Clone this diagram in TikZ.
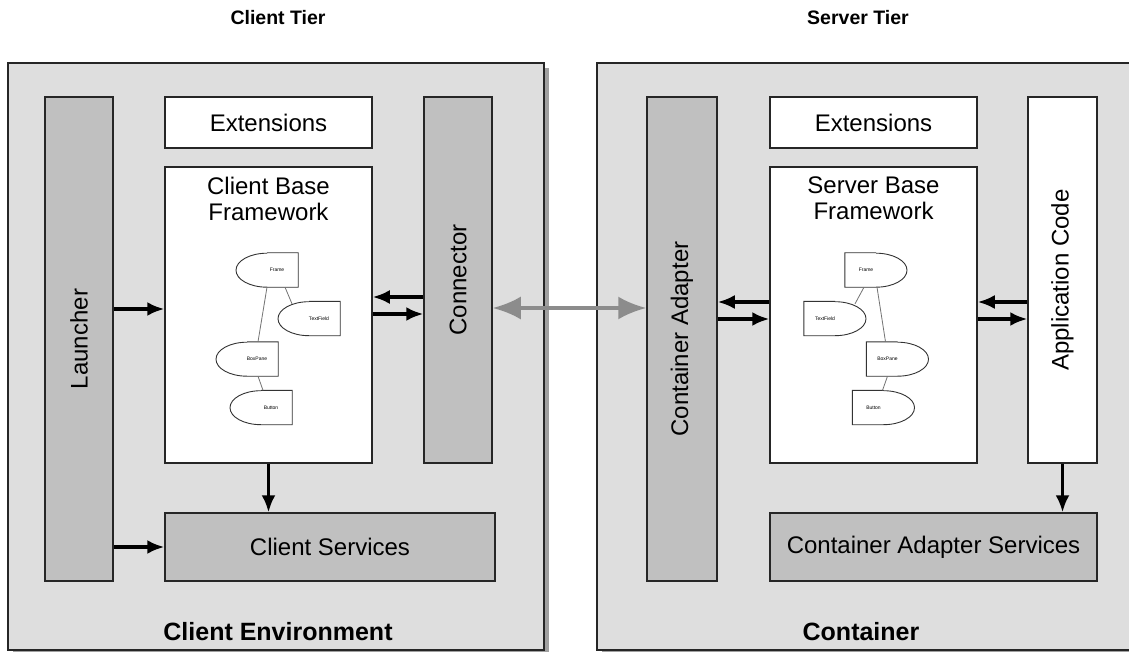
\documentclass[tikz,border=0pt]{standalone}
\usepackage{fontspec}
\setmainfont{Liberation Sans}
\usetikzlibrary{arrows.meta,shadows}

\definecolor{envgray}{HTML}{DEDEDE}
\definecolor{partgray}{HTML}{C0C0C0}
\definecolor{shadowgray}{HTML}{A0A0A0}
\definecolor{linkgray}{HTML}{8C8C8C}

\tikzset{
  env/.style={draw=black!85, line width=1.5pt, fill=envgray,
    drop shadow={shadow xshift=5pt, shadow yshift=-5pt, opacity=1, fill=shadowgray}},
  part/.style={draw=black!85, line width=1.5pt, fill=partgray, inner sep=0pt,
    font=\fontsize{24}{26}\selectfont},
  whitepart/.style={part, fill=white},
  parttext/.style={inner sep=0pt, font=\fontsize{24}{26}\selectfont},
  tier/.style={font=\fontsize{19.5}{22}\selectfont\bfseries},
  envlabel/.style={font=\fontsize{25}{28}\selectfont\bfseries},
  flow/.style={line width=3.2pt, -{Latex[length=17pt,width=14pt]}},
  link/.style={line width=3.5pt, draw=linkgray,
    {Latex[length=28pt,width=23pt]}-{Latex[length=28pt,width=23pt]}},
  cls/.style={minimum width=62pt, minimum height=34pt, inner sep=0pt,
    font=\fontsize{5}{6}\selectfont},
  lcls/.style={cls, execute at begin node={\hspace*{20pt}}},
  rcls/.style={cls, execute at end node={\hspace*{20pt}}},
  clsline/.style={draw=black!80, line width=0.9pt},
  edge/.style={draw=black!55, line width=0.8pt}
}

\begin{document}
\begin{tikzpicture}[x=1pt,y=-1pt]
    \clip (0,0) rectangle (1129,652);

    % the two tiers
    \node [tier] (ctier) at (278,18) {Client Tier};
    \node [tier] (stier) at (858,18) {Server Tier};
    \node [env, minimum width=536pt, minimum height=587pt] (cenv) at (276,356.5) {};
    \node [env, minimum width=543pt, minimum height=587pt] (senv) at (868.5,356.5) {};
    \node [envlabel] (cenvtext) at (278,632) {Client Environment};
    \node [envlabel] (senvtext) at (861,632) {Container};

    % client side
    \node [part, minimum width=68pt, minimum height=484pt] (launch) at (79,339) {};
    \node [parttext, rotate=90] (launchtext) at (launch) {Launcher};
    \node [whitepart, minimum width=207pt, minimum height=51pt] (cext) at (268.5,122.5) {Extensions};
    \node [whitepart, minimum width=207pt, minimum height=296pt] (cbf) at (268.5,315) {};
    \node [parttext, align=center, anchor=north] (cbftext) at (268.5,177) {Client Base\\Framework};
    \node [part, minimum width=68pt, minimum height=366pt] (conn) at (458,280) {};
    \node [parttext, rotate=90] (conntext) at (conn) {Connector};
    \node [part, minimum width=330pt, minimum height=68pt] (csrv) at (330,547) {Client Services};

    % server side
    \node [part, minimum width=70pt, minimum height=484pt] (cadapt) at (682,339) {};
    \node [parttext, rotate=90] (cadapttext) at (cadapt) {Container Adapter};
    \node [whitepart, minimum width=207pt, minimum height=51pt] (sext) at (873.5,122.5) {Extensions};
    \node [whitepart, minimum width=207pt, minimum height=296pt] (sbf) at (873.5,315) {};
    \node [parttext, align=center, anchor=north] (sbftext) at (873.5,177) {Server Base\\Framework};
    \node [whitepart, minimum width=69pt, minimum height=366pt] (app) at (1062.5,280) {};
    \node [parttext, rotate=90] (apptext) at (app) {Application Code};
    \node [part, minimum width=327pt, minimum height=68pt] (cas) at (933.5,547) {Container Adapter Services};

    % small class graph, client
    \node [lcls] (cframe) at (267,270) {Frame};
    \node [lcls] (ctext) at (309,318.5) {TextField};
    \node [lcls] (cbox) at (247,359) {BoxPane};
    \node [lcls] (cbutton) at (261,407.5) {Button};
    \draw [clsline] (cframe.north) -- (cframe.north east) -- (cframe.south east) -- (cframe.south) arc [start angle=270, end angle=90, x radius=31pt, y radius=17pt];
    \draw [clsline] (ctext.north) -- (ctext.north east) -- (ctext.south east) -- (ctext.south) arc [start angle=270, end angle=90, x radius=31pt, y radius=17pt];
    \draw [clsline] (cbox.north) -- (cbox.north east) -- (cbox.south east) -- (cbox.south) arc [start angle=270, end angle=90, x radius=31pt, y radius=17pt];
    \draw [clsline] (cbutton.north) -- (cbutton.north east) -- (cbutton.south east) -- (cbutton.south) arc [start angle=270, end angle=90, x radius=31pt, y radius=17pt];
    \draw [edge] (cframe.south) -- ([xshift=11pt]cbox.north);
    \draw [edge] ([xshift=18pt]cframe.south) -- ([xshift=-17pt,yshift=-2.5pt]ctext.north);
    \draw [edge] ([xshift=11pt]cbox.south) -- ([xshift=2pt]cbutton.north);

    % small class graph, server
    \node [rcls] (sframe) at (876,270) {Frame};
    \node [rcls] (stext) at (835,318.5) {TextField};
    \node [rcls] (sbox) at (897.5,359) {BoxPane};
    \node [rcls] (sbutton) at (883.5,407.5) {Button};
    \draw [clsline] (sframe.north) -- (sframe.north west) -- (sframe.south west) -- (sframe.south) arc [start angle=-90, end angle=90, x radius=31pt, y radius=17pt];
    \draw [clsline] (stext.north) -- (stext.north west) -- (stext.south west) -- (stext.south) arc [start angle=-90, end angle=90, x radius=31pt, y radius=17pt];
    \draw [clsline] (sbox.north) -- (sbox.north west) -- (sbox.south west) -- (sbox.south) arc [start angle=-90, end angle=90, x radius=31pt, y radius=17pt];
    \draw [clsline] (sbutton.north) -- (sbutton.north west) -- (sbutton.south west) -- (sbutton.south) arc [start angle=-90, end angle=90, x radius=31pt, y radius=17pt];
    \draw [edge] ([xshift=-12pt]sframe.south) -- ([xshift=20pt,yshift=-2.5pt]stext.north);
    \draw [edge] ([xshift=1pt]sframe.south) -- ([xshift=-12pt]sbox.north);
    \draw [edge] ([xshift=-10pt]sbox.south) -- ([xshift=-1pt]sbutton.north);

    % arrows
    \coordinate (lrow) at (0,309);
    \coordinate (crowup) at (0,297);
    \coordinate (crowdown) at (0,314);
    \coordinate (srowup) at (0,302);
    \coordinate (srowdown) at (0,319);
    \coordinate (linkrow) at (0,308);
    \draw [flow] (launch.east |- lrow) -- (cbf.west |- lrow);
    \draw [flow] (launch.east |- csrv.west) -- (csrv.west);
    \draw [flow] (conn.west |- crowup) -- (cbf.east |- crowup);
    \draw [flow] (cbf.east |- crowdown) -- (conn.west |- crowdown);
    \draw [flow] (cbf.south) -- (cbf.south |- csrv.north);
    \draw [flow] (sbf.west |- srowup) -- (cadapt.east |- srowup);
    \draw [flow] (cadapt.east |- srowdown) -- (sbf.west |- srowdown);
    \draw [flow] (app.west |- srowup) -- (sbf.east |- srowup);
    \draw [flow] (sbf.east |- srowdown) -- (app.west |- srowdown);
    \draw [flow] (app.south) -- (app.south |- cas.north);
    \draw [link] (conn.east |- linkrow) -- (cadapt.west |- linkrow);
\end{tikzpicture}
\end{document}
